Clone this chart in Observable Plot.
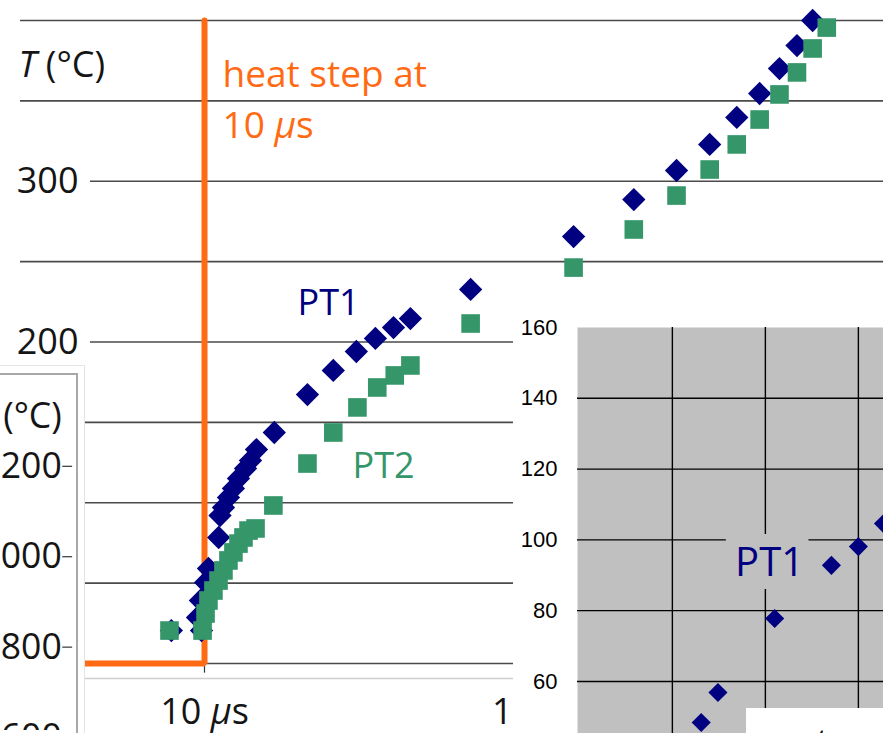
<!DOCTYPE html>
<html><head><meta charset="utf-8">
<script src="https://cdn.jsdelivr.net/npm/d3@7"></script>
<script src="https://cdn.jsdelivr.net/npm/@observablehq/plot@0.6"></script>
<style>
html,body{margin:0;padding:0;background:#fff;}
#root{position:relative;width:883px;height:733px;overflow:hidden;background:#fff;font-family:"Open Sans";}
.layer{position:absolute;}
.layer svg{display:block;}
</style></head><body><div id="root"></div>
<script>
// ---------------- data: main chart (time in µs, temperature in °C) ----------------
const seriesNames = ["PT1", "PT2"];
const pt1Time = [8, 9.8, 9.54, 9.73, 10.07, 10.27, 11.0, 11.1, 11.36, 11.75, 12.15, 12.57, 13.18, 13.63, 14.19, 16.0, 20, 23.8, 27.8, 31.6, 35.7, 40, 60, 120, 180, 240, 300, 360, 420, 480, 540, 600];
const pt1Temp = [20.5, 20.5, 28.6, 39.2, 50.4, 59.1, 78.4, 92.0, 97.0, 103.3, 108.9, 115.1, 121.3, 126.3, 133.1, 143.7, 167.3, 182.3, 194.1, 202.2, 209.0, 214.6, 232.7, 265.6, 288.6, 306.7, 322.9, 339.7, 354.6, 370.1, 384.4, 400];
const pt2Time = [7.9, 9.87, 10.07, 10.27, 10.62, 10.99, 11.36, 11.75, 12.15, 12.57, 13.0, 13.45, 14.1, 15.9, 20, 23.8, 28, 32, 36, 40, 60, 120, 180, 240, 300, 360, 420, 480, 540, 600, 660];
const pt2Temp = [20.5, 20.5, 31.1, 39.2, 45.4, 51.6, 57.9, 64.1, 69.1, 74.6, 78.4, 82.7, 84.0, 98.3, 124.4, 143.7, 159.3, 171.7, 179.2, 185.4, 211.5, 246.3, 270.0, 291.1, 307.3, 322.9, 338.4, 354.0, 367.7, 382.6, 395.6];
const seriesLabelTime = [18.7, 27.1];
const seriesLabelTemp = [216.5, 115.7];

const stepTime = [3, 10, 10];
const stepTemp = [0, 0, 400];
const stepLabel = "heat step at\n10 μs";

const gridTemps = [0, 50, 100, 150, 250, 350, 400];
const labeledTemps = [200, 300];
const xTickValues = [10, 100];
const xTickLabels = ["10 μs", "100 μs"];
const yAxisLabel = "T (°C)";

// ---------------- data: left background panel ----------------
const leftTicks = [600, 800, 1000, 1200];
const leftLabel = "T (°C)";

// ---------------- data: inset panel ----------------
const insetX = [1.31, 1.49, 2.10, 2.71, 3.0, 3.27];
const insetY = [48.4, 56.9, 77.8, 92.8, 98.1, 104.6];
const insetYTicks = [60, 80, 100, 120, 140, 160];
const insetGridY = [60, 80, 100, 120, 140];
const insetGridX = [1, 2, 3];
const insetLabel = "PT1";
const insetLabelX = 2.045, insetLabelY = 89.9;

// ---------------- styles ----------------
const NAVY = "#000080", GREEN = "#35966a", ORANGE = "#ff6a13", INK = "#151515";

// ---------------- build ----------------
const points = [
  ...pt1Time.map((t, i) => ({t, T: pt1Temp[i], s: "PT1"})),
  ...pt2Time.map((t, i) => ({t, T: pt2Temp[i], s: "PT2"}))
];
const seriesLabels = seriesNames.map((s, i) => ({s, t: seriesLabelTime[i], T: seriesLabelTemp[i]}));
const step = stepTime.map((t, i) => ({t, T: stepTemp[i]}));

function italicize(svg) {
  const walker = document.createTreeWalker(svg, NodeFilter.SHOW_TEXT);
  const nodes = [];
  while (walker.nextNode()) nodes.push(walker.currentNode);
  const re = /(μ|T(?= \())/;
  for (const n of nodes) {
    const s = n.nodeValue;
    if (!re.test(s)) continue;
    const frag = document.createDocumentFragment();
    s.split(re).forEach((part, k) => {
      if (!part) return;
      if (k % 2 === 1) {
        const ts = document.createElementNS("http://www.w3.org/2000/svg", "tspan");
        ts.setAttribute("font-style", "italic");
        ts.textContent = part;
        frag.appendChild(ts);
      } else frag.appendChild(document.createTextNode(part));
    });
    n.parentNode.replaceChild(frag, n);
  }
  return svg;
}

const root = document.getElementById("root");
function layer(el, left, top, w, h, css = "") {
  const d = document.createElement("div");
  d.className = "layer";
  d.style.cssText = `left:${left}px;top:${top}px;width:${w}px;height:${h}px;overflow:hidden;${css}`;
  if (el) d.appendChild(el);
  root.appendChild(d);
  return d;
}

const main = Plot.plot({
  width: 883, height: 733,
  marginLeft: 20, marginRight: 0, marginTop: 20, marginBottom: 55,
  x: {type: "log", domain: [10, 100], range: [204, 546], axis: null},
  y: {domain: [0, 400], range: [663, 20], axis: null},
  color: {domain: seriesNames, range: [NAVY, GREEN]},
  symbol: {domain: seriesNames, range: ["diamond2", "square"]},
  style: {background: "transparent", fontFamily: "Open Sans", color: INK},
  marks: [
    Plot.ruleY([0], {dy: 15, stroke: "#cfcfcf", strokeWidth: 1.5}),
    Plot.ruleY(gridTemps, {stroke: "#4a4a4a", strokeWidth: 1.6}),
    Plot.ruleY(labeledTemps, {x1: 4.64, x2: 2000, stroke: "#4a4a4a", strokeWidth: 1.6}),
    Plot.ruleX(xTickValues, {y1: 0, y2: -6, stroke: "#333", strokeWidth: 1.2}),
    Plot.text(labeledTemps, {y: d => d, text: d => String(d), frameAnchor: "left", dx: 58, textAnchor: "end", fontSize: 36, fill: INK}),
    Plot.text([yAxisLabel], {frameAnchor: "top-left", dx: -2, dy: 56, textAnchor: "start", lineAnchor: "bottom", fontSize: 36, fill: INK}),
    Plot.text(xTickValues, {x: d => d, text: (d, i) => xTickLabels[i], frameAnchor: "bottom", lineAnchor: "bottom", dy: 45, fontSize: 36, fill: INK}),
    Plot.line(step, {x: "t", y: "T", stroke: ORANGE, strokeWidth: 6, strokeLinejoin: "miter", curve: "linear"}),
    Plot.text([stepLabel], {x: 10, y: 326.6, dx: 18, textAnchor: "start", lineAnchor: "bottom", lineHeight: 1.4, fontSize: 37, fill: ORANGE}),
    Plot.dot(points, {x: "t", y: "T", symbol: "s", fill: "s", r: 10.5, stroke: "none"}),
    Plot.text(seriesLabels, {x: "t", y: "T", text: "s", fill: "s", textAnchor: "start", lineAnchor: "bottom", fontSize: 36})
  ]
});
layer(italicize(main), 0, 0, 883, 733);

// left background panel
const leftDiv = layer(null, 0, 365, 85, 368, "background:#fff;border-top:1px solid #e4e4e4;border-right:1px solid #e4e4e4;box-sizing:border-box;");
const leftBox = document.createElement("div");
leftBox.style.cssText = "position:absolute;left:0;top:7px;width:78px;height:400px;border-top:2px solid #a8a8a8;border-right:2px solid #a8a8a8;box-sizing:border-box;";
leftDiv.appendChild(leftBox);
const left = Plot.plot({
  width: 85, height: 368,
  marginLeft: 63, marginRight: 12, marginTop: 0, marginBottom: 0,
  y: {domain: [600, 1200], range: [375.5, 101], axis: null},
  style: {background: "transparent", fontFamily: "Open Sans", color: INK},
  marks: [
    Plot.ruleY(leftTicks, {stroke: "#333", strokeWidth: 1.2}),
    Plot.text(leftTicks, {y: d => d, text: d => String(d), frameAnchor: "left", dx: -1, textAnchor: "end", fontSize: 36, fill: INK}),
    Plot.text([leftLabel], {frameAnchor: "top-left", dx: -1, dy: 62, textAnchor: "end", lineAnchor: "bottom", fontSize: 36, fill: INK})
  ]
});
left.style.position = "absolute"; left.style.left = "0"; left.style.top = "0";
leftDiv.appendChild(italicize(left));

// inset panel
const insetPts = insetX.map((x, i) => ({x, y: insetY[i]}));
const inset = Plot.plot({
  width: 370, height: 428,
  marginLeft: 64, marginRight: 0, marginTop: 22, marginBottom: 0,
  x: {domain: [-0.02, 3.27], axis: null},
  y: {domain: [45.3, 160], ticks: insetYTicks, tickSize: 0, tickPadding: 20, label: null},
  style: {background: "#fff", fontFamily: "Liberation Sans, Arial", fontSize: "22px", color: "#000"},
  marks: [
    Plot.frame({fill: "#c0c0c0", stroke: "none"}),
    Plot.ruleY(insetGridY, {stroke: "#000", strokeWidth: 1.4}),
    Plot.ruleX(insetGridX, {stroke: "#000", strokeWidth: 1.4}),
    Plot.text([insetLabel], {x: insetLabelX, y: insetLabelY, lineAnchor: "bottom", fontSize: 40, fontFamily: "Open Sans", fill: NAVY, stroke: "#c0c0c0", strokeWidth: 26, strokeLinejoin: "miter"}),
    Plot.dot(insetPts, {x: "x", y: "y", symbol: "diamond2", r: 8.6, fill: NAVY, stroke: "none"})
  ]
});
layer(inset, 513, 305, 370, 428, "background:#fff;");

// covering white label box (bottom right)
const cover = layer(null, 746, 708, 137, 25, "background:#fff;");
const t = document.createElement("span");
t.textContent = "t";
t.style.cssText = "position:absolute;left:68px;top:16px;font:italic 36px/36px 'Open Sans';color:#111;";
cover.appendChild(t);
</script></body></html>
